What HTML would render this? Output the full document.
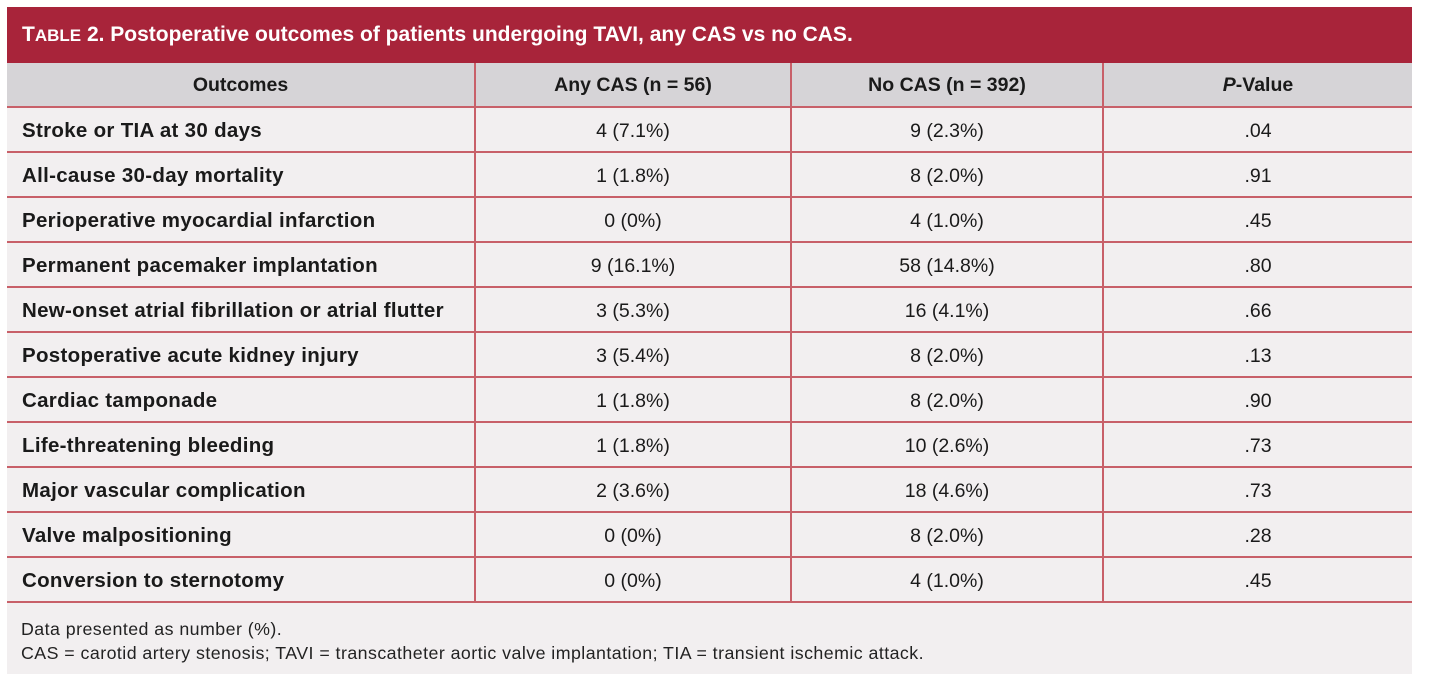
<!DOCTYPE html>
<html><head><meta charset="utf-8"><style>
html,body{margin:0;padding:0;background:#fff;width:1434px;height:688px;overflow:hidden;font-family:"Liberation Sans",sans-serif;}
.panel{position:absolute;left:7px;top:7px;width:1405px;height:667px;background:#f2eff0;}
.title{position:absolute;left:0;top:0;width:1405px;height:56px;background:#a8243a;color:#fff;font-weight:bold;font-size:21px;line-height:56px;padding-left:15px;box-sizing:border-box;}
table{position:absolute;left:0;top:56px;border-collapse:collapse;width:1405px;}
td,th{height:41px;padding:2px 0 0 0;line-height:20px;font-size:19.5px;font-weight:bold;color:#1a1a1a;border-bottom:2px solid #c86069;border-left:2px solid #c86069;text-align:center;}
td:first-child,th:first-child{border-left:none;}
th{background:#d6d4d7;height:43px;padding:0;}
td:first-child{text-align:left;padding-left:15px;font-size:20.5px;letter-spacing:0.3px;}
td{font-weight:normal;}
td:first-child{font-weight:bold;}
.foot{position:absolute;left:14px;top:610px;font-size:17.8px;letter-spacing:0.45px;color:#222;line-height:24px;}
</style></head><body>
<div class="panel">
<div class="title">T<span style="font-size:17px">ABLE</span> 2. Postoperative outcomes of patients undergoing TAVI, any CAS vs no CAS.</div>
<table>
<colgroup><col style="width:468px"><col style="width:316px"><col style="width:312px"><col style="width:309px"></colgroup>
<tr><th>Outcomes</th><th>Any CAS (n = 56)</th><th>No CAS (n = 392)</th><th><i>P</i>-Value</th></tr>
<tr><td>Stroke or TIA at 30 days</td><td>4 (7.1%)</td><td>9 (2.3%)</td><td>.04</td></tr>
<tr><td>All-cause 30-day mortality</td><td>1 (1.8%)</td><td>8 (2.0%)</td><td>.91</td></tr>
<tr><td>Perioperative myocardial infarction</td><td>0 (0%)</td><td>4 (1.0%)</td><td>.45</td></tr>
<tr><td>Permanent pacemaker implantation</td><td>9 (16.1%)</td><td>58 (14.8%)</td><td>.80</td></tr>
<tr><td>New-onset atrial fibrillation or atrial flutter</td><td>3 (5.3%)</td><td>16 (4.1%)</td><td>.66</td></tr>
<tr><td>Postoperative acute kidney injury</td><td>3 (5.4%)</td><td>8 (2.0%)</td><td>.13</td></tr>
<tr><td>Cardiac tamponade</td><td>1 (1.8%)</td><td>8 (2.0%)</td><td>.90</td></tr>
<tr><td>Life-threatening bleeding</td><td>1 (1.8%)</td><td>10 (2.6%)</td><td>.73</td></tr>
<tr><td>Major vascular complication</td><td>2 (3.6%)</td><td>18 (4.6%)</td><td>.73</td></tr>
<tr><td>Valve malpositioning</td><td>0 (0%)</td><td>8 (2.0%)</td><td>.28</td></tr>
<tr><td>Conversion to sternotomy</td><td>0 (0%)</td><td>4 (1.0%)</td><td>.45</td></tr>
</table>
<div class="foot">Data presented as number (%).<br>CAS = carotid artery stenosis; TAVI = transcatheter aortic valve implantation; TIA = transient ischemic attack.</div>
</div>
</body></html>
